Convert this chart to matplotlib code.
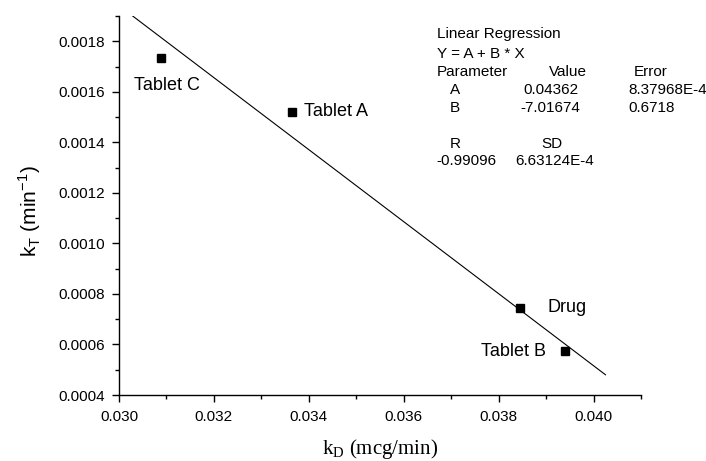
import matplotlib
matplotlib.use("Agg")
import matplotlib.pyplot as plt
from matplotlib.ticker import MultipleLocator, FormatStrFormatter

# Measured release constants
names = ["Tablet C", "Tablet A", "Drug", "Tablet B"]
k_d = [0.03088, 0.03364, 0.03846, 0.03940]      # mcg/min
k_t = [0.001735, 0.001521, 0.000745, 0.000573]  # 1/min

# Regression results (k_D = A + B * k_T)
fit_A = 0.04362
fit_B = -7.01674
fit_A_err = "8.37968E-4"
fit_B_err = "0.6718"
fit_R = "-0.99096"
fit_SD = "6.63124E-4"
fit_span = [0.00196, 0.00048]  # k_T range covered by the fitted line

W, H = 706, 461
fig = plt.figure(figsize=(W / 100, H / 100), dpi=100)
ax = fig.add_axes([119 / W, 1 - 395 / H, (641 - 119) / W, (395 - 16) / H])

sans = "Liberation Sans"
serif = "Liberation Serif"

# fitted line
fx = [fit_A + fit_B * y for y in fit_span]
ax.plot(fx, fit_span, color="black", lw=0.8)

# data points
ax.plot(k_d, k_t, linestyle="none", marker="s", ms=6.2, color="black")

# point labels (offsets in points)
label_pos = {
    "Tablet C": ((4.3, -20.0), "center"),
    "Tablet A": ((8.9, 0.0), "left"),
    "Drug": ((19.5, 0.0), "left"),
    "Tablet B": ((-13.4, 0.0), "right"),
}
for n, x, y in zip(names, k_d, k_t):
    off, ha = label_pos[n]
    ax.annotate(n, (x, y), xytext=off, textcoords="offset points",
                ha=ha, va="center", fontsize=13, family=sans)

ax.set_xlim(0.030, 0.041)
ax.set_ylim(0.0004, 0.0019)
ax.xaxis.set_major_locator(MultipleLocator(0.002))
ax.xaxis.set_minor_locator(MultipleLocator(0.001))
ax.yaxis.set_major_locator(MultipleLocator(0.0002))
ax.yaxis.set_minor_locator(MultipleLocator(0.0001))
ax.xaxis.set_major_formatter(FormatStrFormatter("%.3f"))
ax.yaxis.set_major_formatter(FormatStrFormatter("%.4f"))

for s in ("top", "right"):
    ax.spines[s].set_visible(False)
for s in ("left", "bottom"):
    ax.spines[s].set_linewidth(1.0)
ax.tick_params(which="major", direction="out", length=5, width=1.0,
               labelsize=11)
ax.tick_params(axis="x", which="major", pad=5.5)
ax.tick_params(axis="y", which="major", pad=5.0)
ax.tick_params(which="minor", direction="out", length=3, width=1.0)
for lab in ax.get_xticklabels() + ax.get_yticklabels():
    lab.set_family(sans)

def px(x, y):
    return x / W, 1 - y / H

# axis titles
fig.text(*px(30, 211), r"k$_\mathregular{T}$ (min$^\mathregular{-1}$)",
         rotation=90, ha="center", va="center", fontsize=15, family=sans)
fig.text(*px(380, 449), r"k$_\mathregular{D}$ (mcg/min)",
         ha="center", va="center", fontsize=15, family=serif)

# regression summary
rows = [
    (437, 34, "Linear Regression"),
    (437, 53.5, "Y = A + B * X"),
    (437, 71.5, "Parameter"),
    (549, 71.5, "Value"),
    (634, 71.5, "Error"),
    (450, 89.5, "A"),
    (523, 89.5, f"{fit_A:.5f}"),
    (628, 89.5, fit_A_err),
    (450, 107.5, "B"),
    (520, 107.5, f"{fit_B:.5f}"),
    (628, 107.5, fit_B_err),
    (450, 143.5, "R"),
    (541, 143.5, "SD"),
    (436, 161, fit_R),
    (515, 161, fit_SD),
]
for x, y, t in rows:
    fig.text(*px(x, y), t, ha="left", va="center", fontsize=11, family=sans)

fig.savefig("out.png", dpi=100, facecolor="white")
